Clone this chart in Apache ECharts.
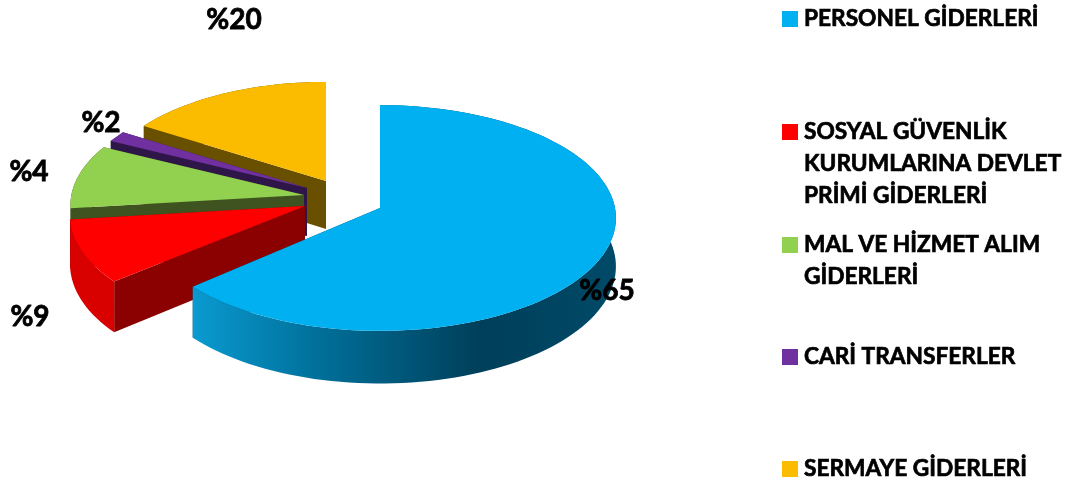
<!DOCTYPE html>
<html><head><meta charset="utf-8">
<style>html,body{margin:0;padding:0;background:#fff}#c{width:1070px;height:487px}</style>
<script src="https://cdn.jsdelivr.net/npm/echarts@6/dist/echarts.min.js"></script>
</head><body><div id="c"></div>
<script>
const categories = ['PERSONEL GİDERLERİ','SOSYAL GÜVENLİK\nKURUMLARINA DEVLET\nPRİMİ GİDERLERİ','MAL VE HİZMET ALIM\nGİDERLERİ','CARİ TRANSFERLER','SERMAYE GİDERLERİ'];
// share of the circle each slice occupies in the picture
const sliceShares = [63.5, 9.6, 9.3, 1.6, 16.0];
// the percentages printed beside the slices
const valueLabels = ['%65','%9','%4','%2','%20'];

const topColors = ['#00b0f0','#ff0000','#92d050','#7030a0','#fbbc00'];
const rimColors = ['#004a68','#d90000','#3f5320','#2e1748','#695000'];
const edgeColors = ['#003f5a','#8b0000','#3f5320','#2e1748','#695000'];
const apexes = [[380,208],[305,206],[304,195],[307,188],[326,181]];
const radiusScale = [1, 0.996, 0.99, 0.97, 0.96];
const startNudgeDeg = [0, 1.7, 0, 0, 0];
const labelSpots = [[607,291],[30,317],[29,172],[101,123],[234,20]];
const legendTops = [11,124,237,349,461];
const stacking = [5,4,3,2,1];
const R = 235, S = 112, K = 0.0885, DEPTH = 48;

const FONT = 'Lato';
function project(i, deg, r, down) {
  const a = deg * Math.PI / 180, rr = r * radiusScale[i], u = Math.sin(a) * rr, v = Math.cos(a) * rr, w = 1 + K * v;
  return [apexes[i][0] + R * u / w, apexes[i][1] - S * v / w + (down ? DEPTH / w : 0)];
}
function arc(i, a0, a1, down) {
  const pts = [], n = Math.max(4, Math.ceil(Math.abs(a1 - a0) / 2));
  for (let k = 0; k <= n; k++) pts.push(project(i, a0 + (a1 - a0) * k / n, 1, down));
  return pts;
}
function makeRender(i) {
  return function (params, api) {
    const span = api.value(0) * 3.6;
    let a0 = 0;
    for (let k = 0; k < i; k++) a0 += sliceShares[k] * 3.6;
    const a1 = a0 + span;
    a0 += startNudgeDeg[i];
    const apexTop = project(i, 0, 0, false), apexLow = project(i, 0, 0, true);
    const top = arc(i, a0, a1, false), low = arc(i, a0, a1, true);
    const rimFill = i === 0
      ? new echarts.graphic.LinearGradient(193, 0, 616, 0, [
          {offset:0,color:'#0a9ad0'},{offset:0.3,color:'#006f99'},{offset:0.68,color:'#003f5a'},{offset:1,color:'#004a68'}], true)
      : rimColors[i];
    const poly = (points, fill) => ({type:'polygon', shape:{points}, style:{fill}});
    const children = [
      poly([apexTop, top[0], low[0], apexLow], edgeColors[i]),
      poly([apexTop, top[top.length-1], low[low.length-1], apexLow], edgeColors[i]),
      poly(top.concat(low.slice().reverse()), rimFill),
      poly([apexTop].concat(top), topColors[i]),
      {type:'text', style:{text:valueLabels[i], x:labelSpots[i][0], y:labelSpots[i][1], align:'center', verticalAlign:'middle',
        font:'bold 28px '+FONT, fill:'#000', stroke:'#000', lineWidth:0.8}}
    ];
    return {type:'group', children};
  };
}
const LINE = 32, BOX = 16;
const legends = categories.map((name, i) => {
  const lines = name.split('\n').length, h = BOX + LINE * (lines - 1);
  return {
    data:[{name, icon:'path://M0 0h16v16h-16z' + (lines > 1 ? 'M0 ' + h + 'h16' : '')}],
    left:782, top:legendTops[i] - 8, padding:0, itemWidth:BOX, itemHeight:h, itemGap:0, selectedMode:false,
    textStyle:{fontFamily:FONT, fontWeight:'bold', fontSize:22.7, lineHeight:LINE, color:'#000', padding:[0,0,0,1],
      textBorderColor:'#000', textBorderWidth:0.7}
  };
});
const chart = echarts.init(document.getElementById('c'), null, {renderer:'canvas'});
chart.setOption({
  animation:false,
  legend:legends,
  series:categories.map((name,i)=>({
    type:'custom', name, coordinateSystem:'none', z:stacking[i],
    itemStyle:{color:topColors[i]},
    data:[[sliceShares[i]]], renderItem:makeRender(i), silent:true
  }))
});
</script></body></html>
